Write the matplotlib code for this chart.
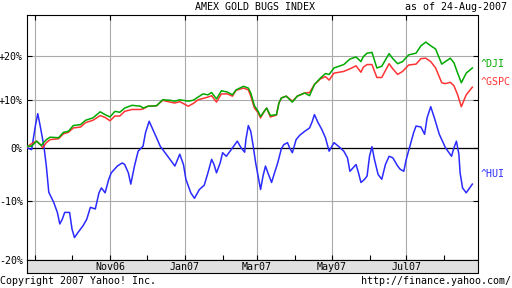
import matplotlib
matplotlib.use("Agg")
import matplotlib.pyplot as plt
import numpy as np
import pandas as pd
from matplotlib.ticker import FixedLocator, FixedFormatter, NullLocator

# ^HUI, % change since 25-Aug-2006
hui_dates = [
    "2006-08-25", "2006-08-29", "2006-09-01", "2006-09-03", "2006-09-05", "2006-09-08",
    "2006-09-10", "2006-09-12", "2006-09-16", "2006-09-19", "2006-09-21", "2006-09-23",
    "2006-09-25", "2006-09-29", "2006-10-01", "2006-10-03", "2006-10-06", "2006-10-10",
    "2006-10-13", "2006-10-16", "2006-10-20", "2006-10-23", "2006-10-25", "2006-10-28",
    "2006-10-31", "2006-11-02", "2006-11-07", "2006-11-11", "2006-11-13", "2006-11-16",
    "2006-11-18", "2006-11-21", "2006-11-24", "2006-11-28", "2006-11-30", "2006-12-03",
    "2006-12-06", "2006-12-09", "2006-12-12", "2006-12-16", "2006-12-20", "2006-12-24",
    "2006-12-28", "2006-12-31", "2007-01-02", "2007-01-06", "2007-01-09", "2007-01-13",
    "2007-01-17", "2007-01-20", "2007-01-23", "2007-01-25", "2007-01-27", "2007-01-30",
    "2007-02-01", "2007-02-04", "2007-02-08", "2007-02-13", "2007-02-16", "2007-02-19",
    "2007-02-20", "2007-02-22", "2007-02-24", "2007-02-26", "2007-02-28", "2007-03-02",
    "2007-03-04", "2007-03-06", "2007-03-08", "2007-03-10", "2007-03-13", "2007-03-15",
    "2007-03-18", "2007-03-21", "2007-03-23", "2007-03-26", "2007-03-28", "2007-03-30",
    "2007-04-02", "2007-04-05", "2007-04-09", "2007-04-13", "2007-04-15", "2007-04-17",
    "2007-04-20", "2007-04-23", "2007-04-26", "2007-04-29", "2007-05-03", "2007-05-07",
    "2007-05-11", "2007-05-14", "2007-05-16", "2007-05-21", "2007-05-23", "2007-05-25",
    "2007-05-28", "2007-05-30", "2007-06-01", "2007-06-03", "2007-06-05", "2007-06-08",
    "2007-06-11", "2007-06-14", "2007-06-17", "2007-06-20", "2007-06-24", "2007-06-26",
    "2007-06-29", "2007-07-01", "2007-07-04", "2007-07-07", "2007-07-09", "2007-07-13",
    "2007-07-16", "2007-07-18", "2007-07-21", "2007-07-24", "2007-07-28", "2007-08-02",
    "2007-08-07", "2007-08-09", "2007-08-11", "2007-08-13", "2007-08-14", "2007-08-16",
    "2007-08-19", "2007-08-24",
]
hui = [
    0.0, -0.4, 4.4, 7.0, 4.4, 0.3,
    -3.6, -8.5, -10.3, -12.1, -14.1, -13.3,
    -12.1, -12.1, -15.0, -16.4, -15.5, -14.4,
    -13.3, -11.2, -11.5, -8.6, -7.7, -8.6,
    -6.1, -4.9, -3.6, -3.0, -3.3, -4.9,
    -7.0, -3.6, -0.7, 0.3, 3.0, 5.4,
    3.7, 2.0, 0.3, -1.0, -2.3, -3.6,
    -1.3, -3.3, -6.1, -8.6, -9.6, -8.0,
    -7.2, -4.9, -2.3, -3.3, -4.9, -3.0,
    -1.0, -1.7, -0.4, 1.3, 0.0, -0.9,
    1.6, 4.5, 3.3, 0.3, -3.0, -5.5,
    -8.0, -5.5, -3.6, -4.9, -6.7, -5.2,
    -3.0, -0.2, 0.6, 1.0, -0.2, -1.0,
    1.6, 2.5, 3.3, 4.0, 5.2, 6.8,
    5.1, 3.7, 2.0, -0.7, 1.0, 0.2,
    -0.7, -2.0, -4.6, -3.3, -4.9, -6.7,
    -6.1, -5.5, -1.7, 0.2, -2.3, -5.2,
    -6.1, -3.3, -1.7, -2.0, -3.6, -4.2,
    -4.6, -2.3, 0.3, 3.0, 4.4, 4.2,
    2.7, 6.1, 8.5, 6.1, 2.7, 0.0,
    -1.7, 0.0, 1.3, -1.3, -4.9, -7.7,
    -8.6, -7.0,
]

# ^DJI and ^GSPC, % change, sampled on the same dates
idx_dates = [
    "2006-08-25", "2006-08-29", "2006-09-02", "2006-09-06", "2006-09-07", "2006-09-10",
    "2006-09-13", "2006-09-20", "2006-09-24", "2006-09-28", "2006-10-02", "2006-10-08",
    "2006-10-12", "2006-10-18", "2006-10-24", "2006-10-28", "2006-11-01", "2006-11-05",
    "2006-11-09", "2006-11-13", "2006-11-19", "2006-11-26", "2006-11-28", "2006-12-02",
    "2006-12-09", "2006-12-14", "2006-12-20", "2006-12-24", "2006-12-28", "2007-01-04",
    "2007-01-08", "2007-01-12", "2007-01-16", "2007-01-20", "2007-01-23", "2007-01-27",
    "2007-01-31", "2007-02-05", "2007-02-09", "2007-02-12", "2007-02-18", "2007-02-22",
    "2007-02-24", "2007-02-27", "2007-03-02", "2007-03-04", "2007-03-07", "2007-03-09",
    "2007-03-12", "2007-03-17", "2007-03-19", "2007-03-21", "2007-03-25", "2007-03-30",
    "2007-04-03", "2007-04-09", "2007-04-13", "2007-04-17", "2007-04-22", "2007-04-26",
    "2007-04-29", "2007-05-03", "2007-05-11", "2007-05-16", "2007-05-21", "2007-05-25",
    "2007-05-27", "2007-05-30", "2007-06-03", "2007-06-07", "2007-06-11", "2007-06-17",
    "2007-06-20", "2007-06-24", "2007-06-28", "2007-07-03", "2007-07-09", "2007-07-13",
    "2007-07-17", "2007-07-21", "2007-07-25", "2007-07-30", "2007-08-02", "2007-08-06",
    "2007-08-09", "2007-08-12", "2007-08-15", "2007-08-19", "2007-08-24",
]
dji = [
    0.3, 0.3, 1.3, 0.4, 0.8, 1.6,
    2.1, 2.0, 3.1, 3.3, 4.5, 4.7,
    5.6, 6.1, 7.4, 6.8, 6.3, 7.5,
    7.3, 8.2, 8.8, 8.6, 8.2, 8.6,
    8.7, 10.0, 9.9, 9.7, 10.0, 9.7,
    9.9, 10.6, 11.3, 11.1, 11.6, 10.2,
    12.0, 11.7, 11.1, 12.2, 13.0, 12.6,
    11.5, 8.7, 7.5, 6.4, 7.5, 8.2,
    6.6, 6.8, 9.3, 10.4, 10.8, 9.5,
    10.8, 11.5, 10.9, 13.4, 14.9, 15.9,
    15.7, 17.2, 18.0, 19.3, 19.8, 18.7,
    19.9, 20.7, 20.9, 17.2, 17.6, 20.6,
    19.4, 18.2, 18.7, 20.3, 20.7, 22.5,
    23.4, 22.5, 21.7, 18.1, 18.7, 19.5,
    18.4, 16.0, 13.8, 16.0, 17.2,
]
gspc = [
    0.1, 0.8, 1.3, 0.4, 0.0, 1.0,
    1.6, 1.8, 2.8, 3.1, 4.0, 4.2,
    5.1, 5.6, 6.6, 6.2, 5.5, 6.5,
    6.5, 7.5, 7.9, 7.9, 8.0, 8.6,
    8.7, 9.9, 9.5, 9.3, 9.6, 8.6,
    9.2, 10.0, 10.3, 10.6, 10.9, 9.5,
    11.3, 11.3, 10.8, 12.1, 12.6, 12.2,
    10.8, 8.2, 7.2, 6.1, 7.5, 8.2,
    6.3, 6.7, 9.3, 10.4, 10.8, 9.7,
    10.8, 11.5, 11.6, 13.4, 14.7, 15.2,
    14.4, 16.0, 16.4, 17.0, 17.7, 16.2,
    17.4, 18.0, 18.0, 15.0, 15.0, 18.2,
    17.0, 15.7, 16.4, 17.9, 18.1, 19.4,
    19.5, 18.7, 17.2, 13.8, 13.6, 13.9,
    13.1, 11.1, 8.5, 11.1, 12.8,
]

ytick_vals = [-20, -10, 0, 10, 20]
ytick_labels = ["-20%", "-10%", "0%", "+10%", "+20%"]
grid_months = ["2006-09-01", "2006-11-01", "2007-01-01", "2007-03-01", "2007-05-01", "2007-07-01"]
minor_months = ["2006-10-01", "2006-12-01", "2007-02-01", "2007-04-01", "2007-06-01", "2007-08-01"]
month_labels = ["Nov06", "Jan07", "Mar07", "May07", "Jul07"]

GREEN = "#00aa00"
RED = "#ff3333"
BLUE = "#2b2bff"

plt.rcParams["font.family"] = ["DejaVu Sans Mono"]
plt.rcParams["font.size"] = 7.2

W, H = 512, 288
fig = plt.figure(figsize=(W / 100, H / 100), dpi=100)


def box(x0, y0, x1, y1):
    # pixel box -> figure fraction
    return [x0 / W, 1 - y1 / H, (x1 - x0) / W, (y1 - y0) / H]


ax = fig.add_axes(box(27, 15, 477.5, 260))
band = fig.add_axes(box(27, 260, 477.5, 273.3))

to_ratio = lambda v: 1 + np.array(v) / 100.0
ax.plot(pd.to_datetime(hui_dates), to_ratio(hui), color=BLUE, lw=1.1, zorder=3)
ax.plot(pd.to_datetime(idx_dates), to_ratio(gspc), color=RED, lw=1.1, zorder=4)
ax.plot(pd.to_datetime(idx_dates), to_ratio(dji), color=GREEN, lw=1.1, zorder=5)

xlim = (pd.Timestamp("2006-08-25 05:00"), pd.Timestamp("2007-08-28 05:00"))
ax.set_xlim(xlim)
ax.set_yscale("log")
ax.set_ylim(0.7995, 1.3024)
ax.yaxis.set_major_locator(FixedLocator(list(to_ratio(ytick_vals))))
ax.yaxis.set_major_formatter(FixedFormatter(ytick_labels))
ax.yaxis.set_minor_locator(NullLocator())
ax.set_xticks(pd.to_datetime(grid_months))
ax.set_xticks(pd.to_datetime(minor_months), minor=True)

ax.grid(True, which="major", color="#aaaaaa", lw=0.8, zorder=1)
ax.axhline(1.0, color="black", lw=0.9, zorder=2)
ax.tick_params(axis="x", which="both", direction="in", length=3.5, width=0.8,
               top=True, labelbottom=False)
ax.tick_params(axis="x", which="minor", top=False)
ax.tick_params(axis="y", direction="in", length=3.5, width=0.8, right=True, pad=3)
for s in ax.spines.values():
    s.set_linewidth(0.8)

band.set_xlim(xlim)
band.set_facecolor("#e0e0e0")
band.set_xticks([])
band.set_yticks([])
for s in band.spines.values():
    s.set_linewidth(0.8)
for d, lab in zip(pd.to_datetime(grid_months[1:]), month_labels):
    band.text(d, 0.45, lab, transform=band.get_xaxis_transform(), ha="center", va="center")

fig.text(255 / W, 1 - 7.5 / H, "AMEX GOLD BUGS INDEX", ha="center", va="center")
fig.text(507 / W, 1 - 7.5 / H, "as of 24-Aug-2007", ha="right", va="center")
fig.text(0.5 / W, 1 - 281.5 / H, "Copyright 2007 Yahoo! Inc.", ha="left", va="center")
fig.text(511 / W, 1 - 281.5 / H, "http://finance.yahoo.com/", ha="right", va="center")

fig.text(480.5 / W, 1 - 64 / H, "^DJI", color=GREEN, ha="left", va="center")
fig.text(480.5 / W, 1 - 82 / H, "^GSPC", color=RED, ha="left", va="center")
fig.text(480.5 / W, 1 - 174 / H, "^HUI", color=BLUE, ha="left", va="center")

fig.savefig("out.png", dpi=100)
